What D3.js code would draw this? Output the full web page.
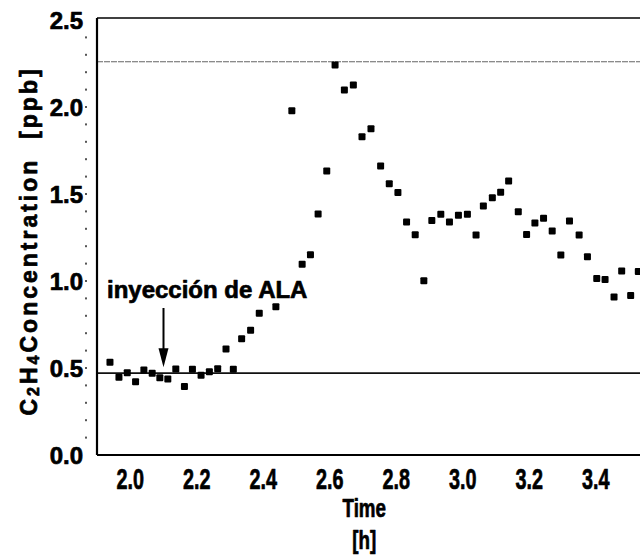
<!DOCTYPE html>
<html lang="es">
  <head>
    <meta charset="utf-8">
    <title>C2H4 concentration</title>
    <style>
     body { margin: 0; background: #fff; }
     svg { display: block; font-family: "Liberation Sans", Arial, sans-serif; }
     .heavy { stroke: #000; stroke-width: 0.7px; stroke-linejoin: round; }
    </style>
  </head>
  <body>
    <div id="plot"></div>
  </body>
  <script src="https://cdn.jsdelivr.net/npm/d3@7"></script>
  <script>
   // values
   var time = [1.939, 1.966, 1.991, 2.016, 2.041, 2.066, 2.089, 2.113, 2.137, 2.163,
               2.187, 2.213, 2.238, 2.263, 2.288, 2.310, 2.335, 2.362, 2.388, 2.438,
               2.486, 2.517, 2.542, 2.565, 2.591, 2.616, 2.644, 2.671, 2.697, 2.724,
               2.753, 2.779, 2.805, 2.831, 2.857, 2.883, 2.907, 2.934, 2.960, 2.987,
               3.014, 3.040, 3.062, 3.089, 3.114, 3.138, 3.167, 3.192, 3.217, 3.243,
               3.269, 3.295, 3.321, 3.350, 3.375, 3.403, 3.428, 3.455, 3.478, 3.505,
               3.528];
   var conc = [0.533, 0.447, 0.473, 0.421, 0.489, 0.470, 0.444, 0.437, 0.494, 0.393,
               0.493, 0.458, 0.479, 0.496, 0.609, 0.493, 0.668, 0.717, 0.814, 0.852,
               1.979, 1.096, 1.151, 1.385, 1.632, 2.241, 2.098, 2.126, 1.829, 1.875,
               1.661, 1.559, 1.509, 1.339, 1.266, 1.002, 1.347, 1.383, 1.339, 1.378,
               1.383, 1.264, 1.431, 1.479, 1.510, 1.575, 1.398, 1.267, 1.333, 1.360,
               1.287, 1.149, 1.345, 1.264, 1.140, 1.014, 1.009, 0.908, 1.057, 0.917,
               1.055];
   var xTicks = [2.0, 2.2, 2.4, 2.6, 2.8, 3.0, 3.2, 3.4];
   var yTicks = [0.0, 0.5, 1.0, 1.5, 2.0, 2.5];
   var refLines = [0.47, 2.26];          // baseline and peak lines
   var arrowTime = 2.1, arrowFrom = 0.845, arrowTo = 0.505;
   var noteText = "inyección de ALA", noteTime = 1.93, noteConc = 0.905;

   // note: "top" is window.top in a browser, so use other names
   var width = 640, height = 558,
       pLeft = 97, pRight = 640, pTop = 20, pBottom = 455;

   var svg = d3.select("#plot").append("svg")
               .attr("width", width)
               .attr("height", height);

   var x = d3.scaleLinear().domain([1.9, 1.9 + (pRight - pLeft) / 332.5]).range([pLeft, pRight]);
   var y = d3.scaleLinear().domain([0, 2.5]).range([pBottom, pTop]);

   // reference lines
   svg.selectAll("line.ref")
      .data(refLines)
      .enter().append("line")
      .attr("class", "ref")
      .attr("x1", pLeft).attr("x2", pRight)
      .attr("y1", d => y(d)).attr("y2", d => y(d))
      .attr("stroke", (d, i) => i === 0 ? "#111" : "#666")
      .attr("stroke-width", (d, i) => i === 0 ? 1.8 : 1.2)
      .attr("stroke-dasharray", (d, i) => i === 0 ? null : "6,1");

   // frame: left, bottom, top (right edge is cut off)
   var frame = svg.append("g").attr("stroke", "#000").attr("fill", "none");
   frame.append("line").attr("x1", pLeft).attr("x2", pLeft).attr("y1", pTop - 2).attr("y2", pBottom).attr("stroke-width", 2.2);
   frame.append("line").attr("x1", pLeft).attr("x2", pRight).attr("y1", pBottom).attr("y2", pBottom).attr("stroke-width", 2);
   frame.append("line").attr("x1", pLeft).attr("x2", pRight).attr("y1", pTop - 2).attr("y2", pTop - 2).attr("stroke-width", 1.6);

   // faint minor tick dots left of the y axis
   svg.selectAll("rect.minor")
      .data(d3.range(1, 25).map(k => k / 10))
      .enter().append("rect")
      .attr("class", "minor")
      .attr("x", 85).attr("y", d => y(d) - 1)
      .attr("width", 2).attr("height", 2)
      .attr("fill", "#555");

   // y tick labels
   svg.selectAll("text.ylab")
      .data(yTicks)
      .enter().append("text")
      .attr("class", "ylab heavy")
      .attr("x", 83)
      .attr("y", d => y(d) + 8.5)
      .attr("text-anchor", "end")
      .attr("font-size", 24)
      .attr("font-weight", "bold")
      .text(d => d3.format(".1f")(d));

   // x tick labels (condensed like the scan)
   svg.selectAll("g.xlab")
      .data(xTicks)
      .enter().append("g")
      .attr("class", "xlab")
      .attr("transform", d => "translate(" + x(d) + ",489)")
      .append("text")
      .attr("class", "heavy")
      .attr("transform", "scale(0.66,1)")
      .attr("text-anchor", "middle")
      .attr("font-size", 30)
      .attr("font-weight", "bold")
      .text(d => d3.format(".1f")(d));

   // x axis title
   [["Time", 517], ["[h]", 549]].forEach(function (t) {
     svg.append("g")
        .attr("transform", "translate(" + (x(2.8) - 32) + "," + t[1] + ")")
        .append("text")
        .attr("class", "heavy")
        .attr("transform", "scale(0.75,1)")
        .attr("text-anchor", "middle")
        .attr("font-size", 25)
        .attr("font-weight", "bold")
        .text(t[0]);
   });

   // y axis title with subscripts
   var ytitle = svg.append("text")
                   .attr("class", "heavy")
                   .attr("transform", "translate(37,241) rotate(-90)")
                   .attr("text-anchor", "middle")
                   .attr("font-size", 23)
                   .attr("font-weight", "bold")
                   .attr("letter-spacing", 3);
   ytitle.append("tspan").text("C");
   ytitle.append("tspan").attr("font-size", 16).attr("dy", 2).text("2");
   ytitle.append("tspan").attr("dy", -2).text("H");
   ytitle.append("tspan").attr("font-size", 16).attr("dy", 2).text("4");
   ytitle.append("tspan").attr("dy", -2).text("Concentration\u00a0\u00a0[ppb]");

   // data squares
   svg.selectAll("rect.pt")
      .data(time.map((t, i) => [t, conc[i]]))
      .enter().append("rect")
      .attr("class", "pt")
      .attr("x", d => x(d[0]) - 3.5)
      .attr("y", d => y(d[1]) - 3.5)
      .attr("width", 7).attr("height", 7)
      .attr("rx", 1)
      .attr("fill", "#000");

   // annotation
   svg.append("text")
      .attr("class", "heavy")
      .attr("x", x(noteTime))
      .attr("y", y(noteConc))
      .attr("font-size", 24)
      .attr("font-weight", "bold")
      .text(noteText);
   svg.append("line")
      .attr("x1", x(arrowTime)).attr("x2", x(arrowTime))
      .attr("y1", y(arrowFrom)).attr("y2", y(arrowTo) - 16)
      .attr("stroke", "#000").attr("stroke-width", 2);
   svg.append("path")
      .attr("d", "M" + (x(arrowTime) - 5) + "," + (y(arrowTo) - 19) +
                 "L" + (x(arrowTime) + 5) + "," + (y(arrowTo) - 19) +
                 "L" + x(arrowTime) + "," + y(arrowTo) + "Z")
      .attr("fill", "#000");
  </script>
</html>
